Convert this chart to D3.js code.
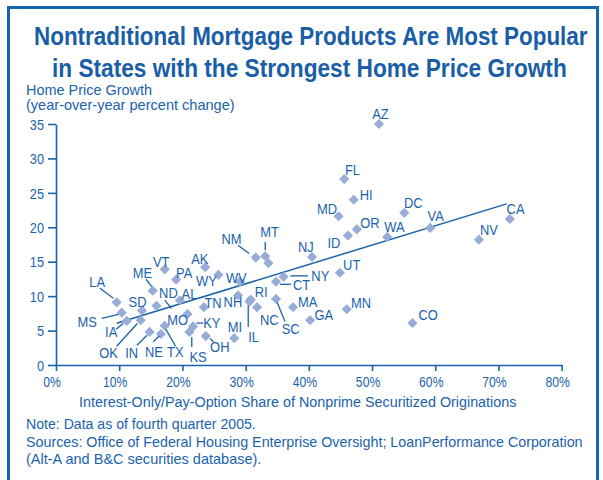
<!DOCTYPE html>
<html><head><meta charset="utf-8">
<script src="https://cdn.jsdelivr.net/npm/d3@7"></script>
<style>
body{margin:0;background:#fff}
svg text{font-family:"Liberation Sans Narrow","Arial Narrow","Liberation Sans",Arial,sans-serif;fill:#1a63ad}
</style></head><body><svg id="c" width="603" height="480"></svg>
<script>
// ---------- data ----------
const states = ["AZ","FL","HI","MD","DC","OR","ID","WA","VA","NV","CA","NJ","UT","NY","CT","MA","GA","MN","CO","SC","NC","RI","IL","NH","TN","KY","KS","OH","MI","MO","TX","NE","IN","OK","IA","MS","LA","SD","ND","AL","ME","VT","PA","AK","WY","WV","NM","MT","DE"];
const ioShare = [51.1,45.6,47.1,44.7,55.1,47.6,46.2,52.4,59.2,66.9,71.8,40.5,44.9,36.0,34.8,37.5,40.2,46.0,56.4,34.8,31.8,30.8,30.6,28.8,23.4,21.7,21.1,23.7,28.2,20.8,17.2,16.6,14.8,13.4,11.2,10.4,9.6,13.6,15.9,19.6,15.3,17.2,19.0,23.6,25.7,29.1,31.6,33.1,33.6];
const priceGrowth = [35.0,27.0,24.0,21.6,22.1,19.7,18.8,18.6,19.9,18.2,21.2,15.7,13.4,12.8,12.1,8.4,6.5,8.1,6.1,9.6,8.4,9.5,9.2,10.1,8.4,5.6,4.8,4.2,3.9,7.4,5.7,4.5,4.8,6.5,6.4,7.6,9.1,7.9,8.6,9.4,10.8,13.9,12.4,14.2,13.1,12.1,15.6,15.8,14.8];
const unlabeled = ["DE"];
const trendShare = [9.6, 71.3];
const trendGrowth = [6.06, 23.4];
const xTicks = [0,10,20,30,40,50,60,70,80];
const yTicks = [0,5,10,15,20,25,30,35];
const titleLines = ["Nontraditional Mortgage Products Are Most Popular","in States with the Strongest Home Price Growth"];
const yTitleLines = ["Home Price Growth","(year-over-year percent change)"];
const xTitle = "Interest-Only/Pay-Option Share of Nonprime Securitized Originations";
const noteLines = ["Note: Data as of fourth quarter 2005.","Sources: Office of Federal Housing Enterprise Oversight; LoanPerformance Corporation","(Alt-A and B&C securities database)."];

// ---------- label layout (offsets from each marker, px) ----------
const labelLayout = {
 AZ:[1.5,-5.5,"middle"], FL:[0.7,-4.3,"start"], HI:[6,0.7,"start"], MD:[-1.6,-2,"end"],
 DC:[-0.3,-4.4,"start"], OR:[3.3,-1,"start"], ID:[-7.6,12.6,"end"], WA:[-3,-5,"start"],
 VA:[-2.7,-6.6,"start"], NV:[1,-5,"start"], CA:[-3.3,-4.7,"start"], NJ:[1.7,-5,"end"],
 UT:[3.3,-2.7,"start"], NY:[27.8,4.3,"start",[6.7,-1,24.5,-1]], CT:[17,8,"start",[4,2.6,15,2.6]],
 MA:[5,-0.5,"start"], GA:[4.3,0,"start"], MN:[4.3,-1,"start"], CO:[6,-2.7,"start"],
 SC:[5.7,35,"start",[1,3,9,22.7]], NC:[3,17.5,"start"], RI:[4,-2.6,"start"],
 IL:[-1.2,40.2,"start",[-1.2,3.8,-1.2,25.2]], NH:[4.2,11.2,"end"], TN:[0.5,1,"start"],
 KY:[10,1.6,"start",[3.4,-3.4,10,-3.4]], KS:[0,30,"start",[2.4,5,2.4,15]],
 OH:[4.3,15.7,"start",[4.3,2.3,7.6,5.7]], MI:[0.7,-6.6,"middle"], MO:[0.6,10.7,"end"],
 TX:[2.3,31.3,"start",[1,3.3,11,20.7]], NE:[-16,23.3,"start",[-7.7,7.7,-1.7,2]],
 IN:[-24.3,25.6,"start",[-12.6,13.3,-2.6,3.3]], OK:[-41.4,37.3,"start",[-24,26,-3.4,3.3]],
 IA:[-21.7,15.7,"start",[-10.7,8.3,-3.4,2.3]], MS:[-25,14.6,"end",[-20,5.6,-3.4,1.6]],
 LA:[-27.4,-15,"start",[-16.7,-14,-3.4,-4]], SD:[-13.4,-4,"start"],
 ND:[2.6,-7.4,"start",[8.3,-5.7,15,2.6]], AL:[1.7,-1.7,"start"],
 ME:[-20,-12.4,"start",[-6.7,-11.4,-1,-4]], VT:[-11.8,-2.6,"start"], PA:[0,-2,"start"],
 AK:[-14,-3.7,"start"], WY:[-1.6,11.7,"end"], WV:[-14,1.3,"start"],
 NM:[-34.3,-14,"start",[-17.7,-12.3,-6.7,-4]], MT:[-5,-19.3,"start",[0,-14.3,0,-6]]
};

const BLUE = "#1a63ad", LINE = "#1a62ab", MARK = "#98acd8";
const svg = d3.select("#c");

// squeeze short text horizontally to mimic a condensed face
function condense(sel, k){
  sel.each(function(){
    const w = this.getComputedTextLength();
    if (w>0) d3.select(this).attr("textLength", w*k).attr("lengthAdjust","spacingAndGlyphs");
  });
}
// place a long text so that it spans a given width (horizontal scale)
function fitText(t, x0, y0, width){
  t.attr("x",0).attr("y",0);
  const w = t.node().getComputedTextLength();
  t.attr("transform",`translate(${x0},${y0}) scale(${width/w},1)`);
  return t;
}

// frame
svg.append("path").attr("d","M8.5,482 V7.5 H597.5 V482").attr("fill","none").attr("stroke","#1565b0").attr("stroke-width",3);

// title
const titleX=[34,52], titleY=[45,77], titleW=[554,515];
titleLines.forEach((s,i)=>{
  fitText(svg.append("text").style("font-size","26px").style("font-weight","bold").style("fill","#1a5ea8").text(s), titleX[i], titleY[i], titleW[i]);
});
const yTitleY=[95,110], yTitleW=[126,209];
yTitleLines.forEach((s,i)=>{
  fitText(svg.append("text").style("font-size","14px").text(s), 26, yTitleY[i], yTitleW[i]);
});

const x = d3.scaleLinear().domain([0,80]).range([56,561.7]);
const y = d3.scaleLinear().domain([0,35]).range([365,124]);

// axes
const gx = svg.append("g").attr("transform","translate(0,365)")
  .call(d3.axisBottom(x).tickValues(xTicks).tickFormat(d=>d+"%").tickSize(6).tickSizeOuter(0));
const gy = svg.append("g").attr("transform","translate(56,0)")
  .call(d3.axisLeft(y).tickValues(yTicks).tickSize(8).tickSizeOuter(0));
[gx,gy].forEach(g=>{
  g.selectAll("path.domain").attr("stroke",LINE).attr("stroke-width",1.6);
  g.selectAll(".tick line").attr("stroke",LINE).attr("stroke-width",1.6);
  g.selectAll(".tick text").style("font-size","14.5px").style("font-family",null).attr("fill",BLUE);
});
gx.selectAll(".tick text").attr("y",22).attr("dy",0).attr("x",-4.5).call(condense,0.84);
gy.selectAll(".tick text").attr("x",-12).attr("dy","0.36em").call(condense,0.88);

fitText(svg.append("text").style("font-size","14.5px").text(xTitle), 79, 406.5, 438);

const noteY=[429,447,464], noteW=[230,557,235.5];
noteLines.forEach((s,i)=>{
  fitText(svg.append("text").style("font-size","14px").text(s), 26, noteY[i], noteW[i]);
});

// data
const pts = states.map((s,i)=>({s, v:ioShare[i], g:priceGrowth[i]}));

// trend line
svg.append("path").datum(trendShare.map((d,i)=>[d,trendGrowth[i]]))
  .attr("d",d3.line().x(d=>x(d[0])).y(d=>y(d[1])))
  .attr("fill","none").attr("stroke",LINE).attr("stroke-width",1.5);

// markers
svg.append("g").selectAll("path").data(pts).join("path")
  .attr("d",d3.symbol(d3.symbolSquare,52)())
  .attr("transform",d=>`translate(${x(d.v)},${y(d.g)}) rotate(45)`)
  .attr("fill",MARK);

// leaders
const lab = pts.filter(d=>!unlabeled.includes(d.s) && labelLayout[d.s]);
svg.append("g").selectAll("line").data(lab.filter(d=>labelLayout[d.s][3])).join("line")
  .attr("x1",d=>x(d.v)+labelLayout[d.s][3][0]).attr("y1",d=>y(d.g)+labelLayout[d.s][3][1])
  .attr("x2",d=>x(d.v)+labelLayout[d.s][3][2]).attr("y2",d=>y(d.g)+labelLayout[d.s][3][3])
  .attr("stroke",LINE).attr("stroke-width",1.3);

// labels
svg.append("g").selectAll("text").data(lab).join("text")
  .attr("x",d=>x(d.v)+labelLayout[d.s][0]).attr("y",d=>y(d.g)+labelLayout[d.s][1])
  .attr("text-anchor",d=>labelLayout[d.s][2])
  .style("font-size","15px").text(d=>d.s).call(condense,0.86);
</script></body></html>
